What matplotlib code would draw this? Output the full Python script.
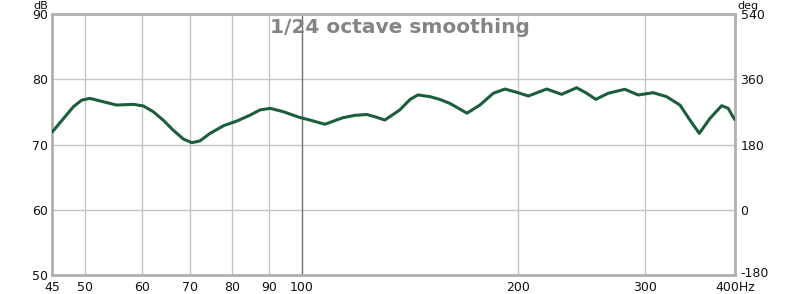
import matplotlib.pyplot as plt
from matplotlib.ticker import FixedLocator, NullLocator
from matplotlib.transforms import ScaledTranslation

# frequency response
freq = [45, 45.1, 46.7, 48.2, 49.5, 50.8, 52.5, 55.3, 58.4, 60.3, 62.2, 64.2,
        66.3, 68.5, 70.4, 72.2, 74.6, 77.9, 81.3, 84.8, 87.5, 90.4, 94.3,
        99.2, 102.7, 107.7, 111.8, 114.1, 118.6, 123.2, 127.1, 130.5, 136.9,
        141.5, 145.1, 150.8, 155.7, 160.7, 169.7, 176.9, 184.6, 191.6, 199.0,
        206.5, 219.0, 229.7, 241.0, 248.9, 256.3, 266.6, 281.2, 293.5, 307.9,
        321.4, 335.4, 346.3, 356.8, 369.2, 383.3, 391.4, 397.8, 400]
spl = [71.9, 72.0, 74.0, 75.8, 76.8, 77.07, 76.67, 76.05, 76.15, 75.9, 75.03, 73.75,
       72.2, 70.84, 70.28, 70.54, 71.7, 72.88, 73.6, 74.5, 75.29, 75.54, 75.03,
       74.17, 73.75, 73.1, 73.75, 74.1, 74.47, 74.6, 74.17, 73.75, 75.3,
       76.92, 77.6, 77.33, 76.9, 76.3, 74.8, 76.05, 77.85, 78.5, 78.0,
       77.43, 78.5, 77.69, 78.7, 77.85, 76.92, 77.85, 78.46, 77.59, 77.94,
       77.33, 76.05, 73.75, 71.71, 74.0, 75.95, 75.54, 74.17, 73.8]

xticks = [45, 50, 60, 70, 80, 90, 100, 200, 300, 400]
xlabels = ['45', '50', '60', '70', '80', '90', '100', '200', '300', '400Hz']
yticks = [50, 60, 70, 80, 90]
degticks = [-180, 0, 180, 360, 540]

fig = plt.figure(figsize=(8, 2.94), dpi=100)
ax = fig.add_axes([0.065, 0.0646, 0.85375, 0.8878])

ax.set_xscale('log')
ax.set_xlim(45, 400)
ax.set_ylim(50, 90)

for f in xticks[1:-1]:
    if f == 100:
        continue
    ax.axvline(f, color='#c4c4c4', lw=1, zorder=1)
for v in yticks[1:-1]:
    ax.axhline(v, color='#c4c4c4', lw=1, zorder=1)
ax.axvline(100, color='#707070', lw=1, zorder=1.5)

ax.plot(freq, spl, color='#1c5e3c', lw=2.2, zorder=3,
        solid_capstyle='round', solid_joinstyle='round')

ax.xaxis.set_major_locator(FixedLocator(xticks))
ax.xaxis.set_minor_locator(NullLocator())
ax.set_xticklabels(xlabels)
ax.set_yticks(yticks)
ax.tick_params(axis='y', length=0, labelsize=9, colors='#111111', pad=3)
ax.tick_params(axis='x', length=0, labelsize=9, colors='#111111', pad=4)

for s in ax.spines.values():
    s.set_color('#b0b0b0')
    s.set_linewidth(2)

ax2 = ax.twinx()
ax2.set_ylim(-180, 540)
ax2.set_yticks(degticks)
ax2.set_yticklabels([str(d) for d in degticks])
ax2.tick_params(length=0, labelsize=9, colors='#111111', pad=4)
for s in ax2.spines.values():
    s.set_visible(False)
# nudge the lowest deg label up a little, as in the original
lab = ax2.get_yticklabels()[0]
lab.set_transform(lab.get_transform() + ScaledTranslation(0, 2 / 72, fig.dpi_scale_trans))

fig.text(0.5, 1 - 33 / 294, '1/24 octave smoothing', ha='center', va='baseline',
         fontsize=14.5, fontweight='bold', color='#848484', zorder=5)
fig.text(48 / 800, 1 - 9 / 294, 'dB', ha='right', va='baseline', fontsize=8, color='#111111')
fig.text(737 / 800, 1 - 9 / 294, 'deg', ha='left', va='baseline', fontsize=8, color='#111111')

fig.savefig('out.png', dpi=100, facecolor='white')
